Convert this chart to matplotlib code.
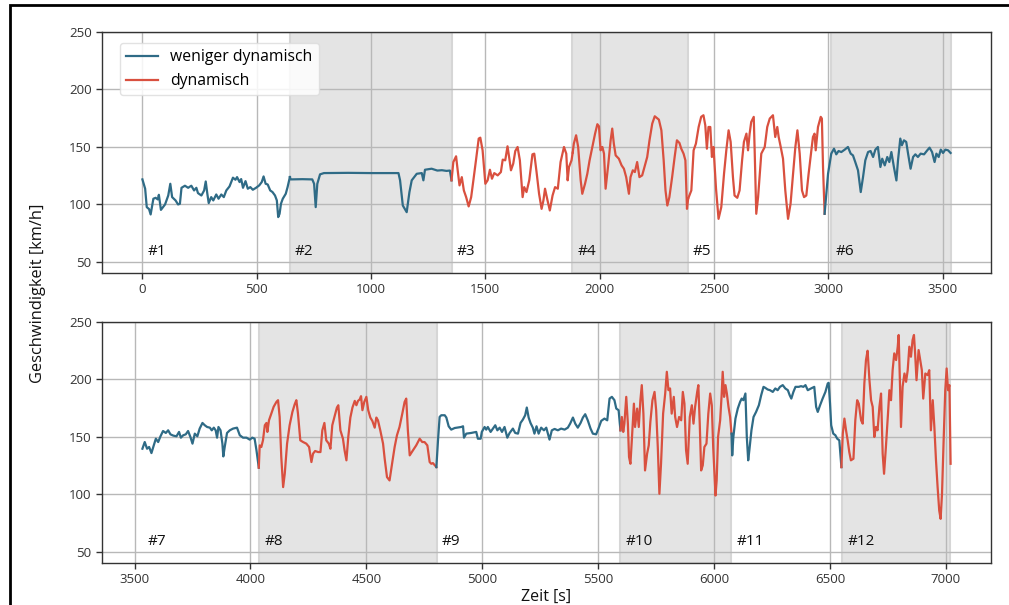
import matplotlib
matplotlib.use("Agg")
import matplotlib.pyplot as plt
from matplotlib.patches import Rectangle
from matplotlib.lines import Line2D

plt.rcParams['font.family'] = ['Open Sans', 'DejaVu Sans']

# ---------------- data ----------------
t1 = [0,12,19,29,36,48,58,67,72,81,99,113,122,130,145,156,164,171,186,200,214,226,236,243,258,270,277,284,290,301,310,323,333,345,356,367,381,396,407,414,425,432,440,451,461,472,483,497,511,522,530,539,548,559,569,580,588,594,600,606,614,627,635,645]
v1 = [121.8,113.7,97.7,96,91.3,105,105.8,104.4,108.4,95.3,100,107.8,118,106.4,103.5,100,100.6,114.5,116.3,114.5,116.3,112.2,114.5,109.9,107.8,112.2,120,109.3,101.2,106.4,103.5,108.7,105,108.7,106.4,112.2,115.7,123.3,121.5,123.8,119.5,122.1,114.5,120.3,113.7,115.1,112.8,114.5,116.6,119.5,124.4,118,117.4,112.2,110.8,107.8,103.5,89,91.9,100.6,105,109.3,115.1,123.8]

t2 = [645,649,700,743,751,758,765,777,794,900,1000,1120,1127,1139,1156,1168,1178,1200,1222,1229,1236,1265,1290,1310,1330,1345,1352]
v2 = [123.8,121.8,122,121.8,118,97.7,118,126.2,127.3,127.5,127.3,127.3,121,99.1,93.3,110.8,121,126.7,127.3,121,130.2,131.1,129.5,129.8,129.2,129.5,121]

t3 = [1352,1360,1372,1379,1387,1397,1406,1416,1427,1438,1448,1459,1471,1478,1488,1500,1510,1520,1529,1539,1554,1568,1576,1587,1597,1605,1612,1622,1631,1641,1651,1663,1670,1680,1692,1706,1714,1724,1735,1746,1754,1761,1772,1782,1794,1805,1817,1829,1844,1854,1860,1866,1877,1882]
v3 = [121,136.9,141.9,129.7,116.6,123.8,112.2,106.4,98.3,106.4,121.5,138.4,157.3,158.1,147.1,118,121,130.2,122.4,127.3,125.3,128.2,139,138.4,150.6,139.8,129.7,135.5,146.5,150,138.4,106.4,115.1,110.8,121,143.6,144.2,128.2,109.3,96.2,103.5,113.7,103.5,94.8,107.8,115.1,113.7,136.9,150,144.2,121,132.6,138.4,145]

t4 = [1882,1887,1897,1906,1917,1924,1936,1946,1956,1968,1980,1990,1997,2004,2012,2019,2026,2038,2048,2055,2062,2070,2084,2096,2106,2116,2128,2135,2145,2154,2164,2174,2186,2198,2208,2218,2230,2241,2259,2270,2280,2288,2296,2305,2317,2328,2338,2349,2357,2367,2375,2382,2387]
v4 = [145,152.9,160.2,150,121,109.3,118,126.7,138.4,150,161.6,169.8,168,147.1,150,144.2,113.7,135.5,155.8,166,152.9,142.7,139.8,134,131.1,123.8,109.3,123.8,129.7,128.2,136.9,123.8,125.3,134,141.3,155.8,170.3,176.7,173.8,164.5,138.4,112.2,99.1,106.4,123.8,141.3,155.8,153.5,148.5,144.2,138.4,96.2,105]

t5 = [2387,2401,2411,2421,2433,2444,2454,2462,2469,2476,2484,2491,2498,2509,2520,2532,2544,2554,2564,2573,2583,2590,2602,2612,2623,2631,2642,2649,2656,2663,2674,2678,2685,2693,2707,2722,2733,2744,2758,2768,2777,2783,2792,2802,2812,2824,2835,2846,2856,2865,2875,2885,2894,2904,2914,2926,2933,2940,2945,2955,2967,2972,2977,2984]
v5 = [105,112.2,147.1,152.9,167.4,176.2,177.6,168.9,148.5,167.4,167.4,141.3,150,113.7,87.5,97.7,126.7,147.1,164.5,154.4,123.8,107.8,105.8,112.2,138.4,154.4,161.6,147.1,161.6,171.8,176.2,147.1,91.9,106.4,144.2,150,167.4,174.7,177.6,158.7,167.4,158.7,150,139.8,112.2,87.5,100.6,126.7,150,164.5,144.2,112.2,106.4,107.8,126.7,147.1,158.7,161.6,147.1,167.4,176.2,174.7,132.6,91.9]

t6 = [2984,2999,3013,3025,3035,3045,3057,3072,3086,3098,3108,3118,3130,3142,3152,3162,3174,3185,3196,3206,3217,3228,3236,3247,3258,3267,3276,3287,3298,3305,3315,3322,3331,3341,3349,3360,3371,3381,3392,3404,3419,3433,3443,3454,3465,3473,3483,3492,3502,3512,3524,3535]
v6 = [91.9,126.7,144.2,148.5,143.6,146.5,145.6,147.7,150,144.2,142.7,136.9,129.7,110.8,123.8,138.4,145.6,146.5,141.3,147.7,150,132.6,139.8,134,141.3,136.9,145.6,132.6,120.9,138.4,157.3,151.5,155.8,154.4,144.2,131.1,141.3,143.6,141.3,144.2,143.6,147.1,149.4,145.6,136.9,144.2,141.3,147.7,144.8,147.7,147.1,144.8]

t7 = [3534,3544,3554,3563,3573,3583,3592,3602,3612,3623,3635,3645,3655,3667,3681,3692,3700,3710,3721,3731,3741,3750,3760,3771,3781,3793,3803,3813,3825,3833,3842,3850,3856,3862,3871,3879,3883,3889,3899,3911,3925,3942,3954,3968,3983,3997,4008,4018,4026,4036]
v7 = [139.8,145.6,139.8,141.3,136,142.7,148.5,145.6,150.6,155.2,153.5,155.8,152.3,151.2,150.6,154.4,149.4,151.5,152.3,155.2,150,144.2,152.9,150.6,157.3,162.2,160.2,158.7,158.1,155.8,158.1,155.8,149.4,158.7,155.8,144.2,133.1,141.3,153.5,155.8,157.3,158.1,151.5,149.4,149.4,147.7,149.4,148.5,138.4,123.3]

t8 = [4036,4040,4047,4054,4062,4069,4073,4080,4090,4100,4112,4119,4126,4133,4141,4148,4158,4169,4181,4191,4198,4205,4215,4227,4241,4253,4263,4270,4279,4292,4302,4310,4319,4327,4338,4345,4353,4363,4373,4379,4388,4399,4406,4414,4422,4431,4440,4450,4457,4464,4471,4477,4483,4491,4500,4508,4517,4526,4536,4543,4550,4560,4572,4579,4589,4600,4612,4622,4632,4643,4655,4665,4672,4679,4687,4701,4715,4730,4741,4751,4763,4773,4780,4787,4802]
v8 = [123.3,142.7,141.3,147.1,160.2,162.2,154.4,164.5,170.3,176.2,180.5,182,167.4,132.6,106.4,118,144.2,160.2,171.8,178.5,182,170.3,147.1,145.6,144.2,141.3,128.2,135.5,137.8,136.9,136.9,155.8,162.2,147.1,144.2,139.8,160.2,168,175.6,177.6,155.8,148.5,138.4,129.7,150,166.9,175.6,181.4,177.6,181.4,182.6,185.5,173.3,180.5,184.9,173.3,166.9,163.9,158.1,166.9,164.5,155.8,144.2,131.1,115.1,112.2,128.2,141.3,151.5,158.7,170.3,180.5,183.4,155.8,134,138.4,142.7,148.5,145.6,145.6,142.7,128.2,126.7,127.3,123.8]

t9 = [4802,4809,4816,4823,4838,4845,4855,4866,4881,4909,4917,4921,4931,4952,4974,4981,4993,4998,5010,5017,5024,5036,5046,5056,5065,5075,5085,5096,5108,5118,5132,5142,5154,5165,5175,5185,5192,5200,5208,5218,5225,5234,5243,5254,5266,5276,5283,5290,5300,5312,5326,5340,5355,5369,5379,5391,5401,5412,5424,5434,5444,5455,5467,5477,5491,5501,5513,5527,5539,5549,5559,5570,5578,5588,5596]
v9 = [123.8,147.1,167.4,168.9,168.9,166.9,159.3,156.4,157.8,158.7,159.3,149.4,152.9,153.5,154.4,148.5,148.5,154.4,158.7,156.4,158.7,154.4,157.3,160.2,155.8,158.1,154.4,158.7,149.4,153.5,157.3,153.5,152.9,162.2,165.1,168.9,175.6,166.9,162.2,158.1,152.9,159.3,152.9,158.1,155.8,158.1,152.9,147.7,155.8,157,155.8,157.3,156.4,158.1,161.6,166.9,161.6,158.1,162.2,166.9,169.8,164.5,157.3,152.9,152.3,157.3,164,166,164.5,183.4,184.9,182,174.7,173.3,155.8]

t10 = [5596,5602,5608,5613,5621,5628,5633,5639,5645,5654,5659,5668,5675,5682,5688,5695,5702,5711,5718,5725,5734,5743,5750,5757,5764,5771,5780,5789,5796,5803,5810,5817,5826,5832,5840,5849,5858,5865,5872,5879,5886,5895,5904,5911,5918,5927,5932,5938,5944,5951,5958,5967,5975,5983,5990,5996,6006,6011,6017,6026,6032,6037,6043,6049,6055,6062,6069,6075]
v10 = [155.8,167.4,154.4,161.6,184.9,161.6,132.6,126.7,147.1,179,158.7,174.7,158.7,182,195.1,170.3,120.9,135.5,142.7,163.1,182,189.2,173.3,141.3,100.6,126.7,170.3,187.8,206.7,190.7,192.2,170.3,184.9,167.4,158.7,167.4,164.5,189.2,179,138.4,126.7,167.4,177.6,161.6,176.2,189.2,195.1,161.6,120.9,125.3,141.3,144.2,170.3,187.8,177.6,141.3,99.1,112.2,150,164.5,184.9,206.7,184.9,195.1,187.8,176.2,167.4,152.9]

t11 = [6075,6078,6083,6092,6102,6112,6119,6126,6135,6141,6147,6152,6161,6170,6181,6193,6203,6213,6221,6231,6241,6253,6264,6274,6284,6296,6307,6318,6326,6333,6342,6351,6365,6375,6385,6394,6404,6418,6432,6440,6447,6457,6468,6480,6490,6494,6500,6505,6514,6523,6531,6540,6549]
v11 = [152.9,134,150,166,174.7,180.5,183.4,182,187.8,150,129.7,138.4,155.8,167.4,171.8,177.6,186.3,193.6,192.7,191.3,190.7,189.2,192.2,190.7,193.6,195.1,192.2,190.7,186.3,183.4,189.2,193.6,193.6,194.2,193.6,195.1,190.7,192.2,193.6,176.2,171.8,177.6,183.4,189.2,196.5,197.1,179,160.2,152.9,151.5,148.5,147.1,123.8]

t12 = [6549,6555,6562,6569,6576,6583,6590,6601,6609,6617,6624,6634,6641,6648,6655,6662,6670,6677,6684,6691,6698,6705,6713,6720,6727,6733,6741,6750,6756,6763,6770,6777,6785,6792,6796,6802,6806,6813,6821,6828,6835,6842,6849,6856,6862,6867,6873,6882,6889,6896,6902,6911,6921,6928,6935,6943,6950,6957,6964,6971,6977,6983,6990,6997,7003,7009,7015,7020]
v12 = [123.8,152.9,166,155.8,147.1,136.9,129.7,131.1,164.5,182,179,164.5,161.6,196.5,216.9,225,199.4,182,176.2,150,158.7,155.8,176.2,187.8,135.5,118,141.3,170.3,190.7,182,208.1,222.7,216.9,228.5,238.7,193.6,158.7,193.6,205.2,198,208.1,228.5,219.8,234.3,238.7,222.7,199.4,225.6,216.9,208.1,183.4,205.2,203.8,208.1,155.8,182,158.7,129.7,106.4,86,78.8,100.6,147.1,190.7,209.6,190.7,195.1,126.7]

segment_labels = ["#1", "#2", "#3", "#4", "#5", "#6", "#7", "#8", "#9", "#10", "#11", "#12"]
segment_dynamic = [False, False, True, True, True, False, False, True, False, True, False, True]
top_bounds = [0, 645, 1352, 1880, 2385, 3010, 3535]
bottom_bounds = [3534, 4038, 4804, 5596, 6074, 6552, 7018]
top_xticks = [0, 500, 1000, 1500, 2000, 2500, 3000, 3500]
bottom_xticks = [3500, 4000, 4500, 5000, 5500, 6000, 6500, 7000]
yticks = [50, 100, 150, 200, 250]

series = [(t1, v1), (t2, v2), (t3, v3), (t4, v4), (t5, v5), (t6, v6),
          (t7, v7), (t8, v8), (t9, v9), (t10, v10), (t11, v11), (t12, v12)]

BLUE = '#2f6b86'
RED = '#d9503f'
SHADE = '#e4e4e4'

W, H = 1009, 605
fig = plt.figure(figsize=(W / 100, H / 100), dpi=100)

ax1 = fig.add_axes([102 / W, 1 - 273 / H, 889 / W, 241 / H])
ax2 = fig.add_axes([102 / W, 1 - 563 / H, 889 / W, 241 / H])

for ax, bounds, idx0, xt in [(ax1, top_bounds, 0, top_xticks), (ax2, bottom_bounds, 6, bottom_xticks)]:
    for k in range(6):
        i = idx0 + k
        tt, vv = series[i]
        col = RED if segment_dynamic[i] else BLUE
        ax.plot(tt, vv, color=col, lw=1.6, zorder=3, solid_joinstyle='round')
        if k % 2 == 1:
            ax.axvspan(bounds[k], bounds[k + 1], facecolor=SHADE, edgecolor='#d6d6d6', lw=1.5, zorder=0)
        ax.text(bounds[k] + 22, 59, segment_labels[i], fontsize=11, va='center', ha='left',
                color='#111111', zorder=4)
    ax.set_ylim(40.4, 250)
    ax.set_yticks(yticks)
    ax.set_xticks(xt)
    ax.grid(True, color='#b8b8b8', lw=1.0)
    ax.tick_params(labelsize=9.5, colors='#333333', length=4, width=1)
    for s in ax.spines.values():
        s.set_color('#333333')
        s.set_linewidth(1.0)

ax1.set_xlim(-176.75, 3711.75)
ax2.set_xlim(3359.7, 7194.3)

handles = [Line2D([0], [0], color=BLUE, lw=1.6), Line2D([0], [0], color=RED, lw=1.6)]
ax1.legend(handles, ['weniger dynamisch', 'dynamisch'], loc='upper left',
           bbox_to_anchor=(18 / 889, 1 - 11 / 241), borderaxespad=0, fontsize=11.3,
           framealpha=0.85, edgecolor='#dddddd', fancybox=True)

ax2.set_xlabel('Zeit [s]', fontsize=11.5, color='#111111', labelpad=1.5)
fig.text(38 / W, 1 - 293 / H, 'Geschwindigkeit [km/h]', rotation=90, fontsize=11.8,
         va='center', ha='center', color='#111111')

# outer frame
fig.add_artist(Rectangle((10 / W, -0.2), 1.5, 0.2 + (1 - 5 / H), transform=fig.transFigure,
                         fill=False, edgecolor='black', lw=2.0, clip_on=False))

fig.savefig('out.png', dpi=100, facecolor='white')
